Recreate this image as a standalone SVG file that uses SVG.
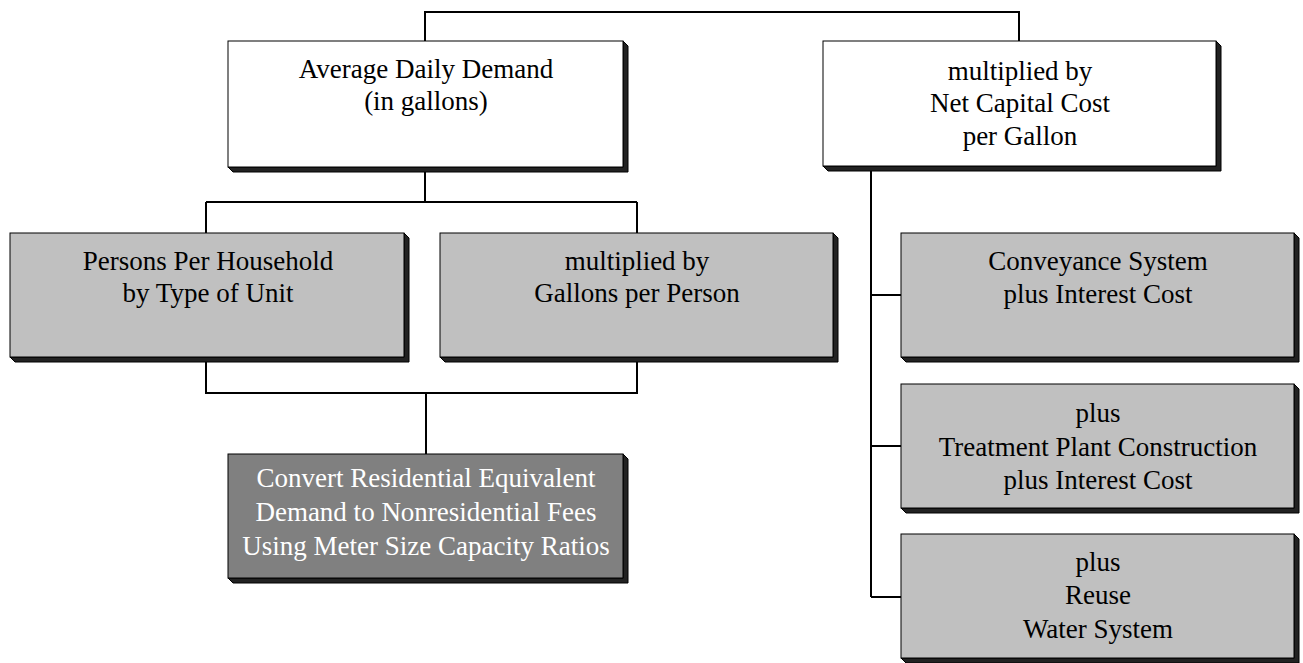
<svg xmlns="http://www.w3.org/2000/svg" width="1303" height="663" viewBox="0 0 1303 663">
<style>
.box{stroke:#000;stroke-width:1}
.white{fill:#fff}
.gray{fill:#c0c0c0}
.dark{fill:#808080}
.sh{fill:#222;stroke:#000;stroke-width:1}
.t{font-family:'Liberation Serif','Times New Roman',Times,serif;font-size:27px;text-anchor:middle;fill:#000}
.tw{fill:#fff}
.c{fill:none;stroke:#000;stroke-width:2}
</style>
<rect width="1303" height="663" fill="#fff"/>
<g id="connectors">
<path class="c" d="M425,41 V12 H1019 V41"/>
<path class="c" d="M425,167 V202 M206,202 H637 M206,202 V233 M637,202 V233"/>
<path class="c" d="M206,357 V393 H637 V357 M426,393 V454"/>
<path class="c" d="M871,166 V597 M871,295 H901 M871,446 H901 M871,597 H901"/>
</g>
<g id="n1">
<polygon class="sh" points="623,41 628,46 628,172 233,172 228,167 623,167"/>
<rect class="box white" x="228" y="41" width="395" height="126"/>
<text class="t" x="426" y="78">Average Daily Demand</text>
<text class="t" x="426" y="110">(in gallons)</text>
</g>
<g id="n2">
<polygon class="sh" points="1216,41 1221,46 1221,171 828,171 823,166 1216,166"/>
<rect class="box white" x="823" y="41" width="393" height="125"/>
<text class="t" x="1020" y="80">multiplied by</text>
<text class="t" x="1020" y="112">Net Capital Cost</text>
<text class="t" x="1020" y="145">per Gallon</text>
</g>
<g id="n3">
<polygon class="sh" points="404,233 409,238 409,362 15,362 10,357 404,357"/>
<rect class="box gray" x="10" y="233" width="394" height="124"/>
<text class="t" x="208" y="270">Persons Per Household</text>
<text class="t" x="208" y="302">by Type of Unit</text>
</g>
<g id="n4">
<polygon class="sh" points="833,233 838,238 838,362 445,362 440,357 833,357"/>
<rect class="box gray" x="440" y="233" width="393" height="124"/>
<text class="t" x="637" y="270">multiplied by</text>
<text class="t" x="637" y="302">Gallons per Person</text>
</g>
<g id="n5">
<polygon class="sh" points="623,454 628,459 628,583 233,583 228,578 623,578"/>
<rect class="box dark" x="228" y="454" width="395" height="124"/>
<text class="t tw" x="426" y="487">Convert Residential Equivalent</text>
<text class="t tw" x="426" y="521">Demand to Nonresidential Fees</text>
<text class="t tw" x="426" y="555">Using Meter Size Capacity Ratios</text>
</g>
<g id="n6">
<polygon class="sh" points="1294,233 1299,238 1299,362 906,362 901,357 1294,357"/>
<rect class="box gray" x="901" y="233" width="393" height="124"/>
<text class="t" x="1098" y="270">Conveyance System</text>
<text class="t" x="1098" y="303">plus Interest Cost</text>
</g>
<g id="n7">
<polygon class="sh" points="1294,384 1299,389 1299,513 906,513 901,508 1294,508"/>
<rect class="box gray" x="901" y="384" width="393" height="124"/>
<text class="t" x="1098" y="422">plus</text>
<text class="t" x="1098" y="456">Treatment Plant Construction</text>
<text class="t" x="1098" y="489">plus Interest Cost</text>
</g>
<g id="n8">
<polygon class="sh" points="1294,534 1299,539 1299,663 906,663 901,658 1294,658"/>
<rect class="box gray" x="901" y="534" width="393" height="124"/>
<text class="t" x="1098" y="571">plus</text>
<text class="t" x="1098" y="604">Reuse</text>
<text class="t" x="1098" y="638">Water System</text>
</g>
</svg>
